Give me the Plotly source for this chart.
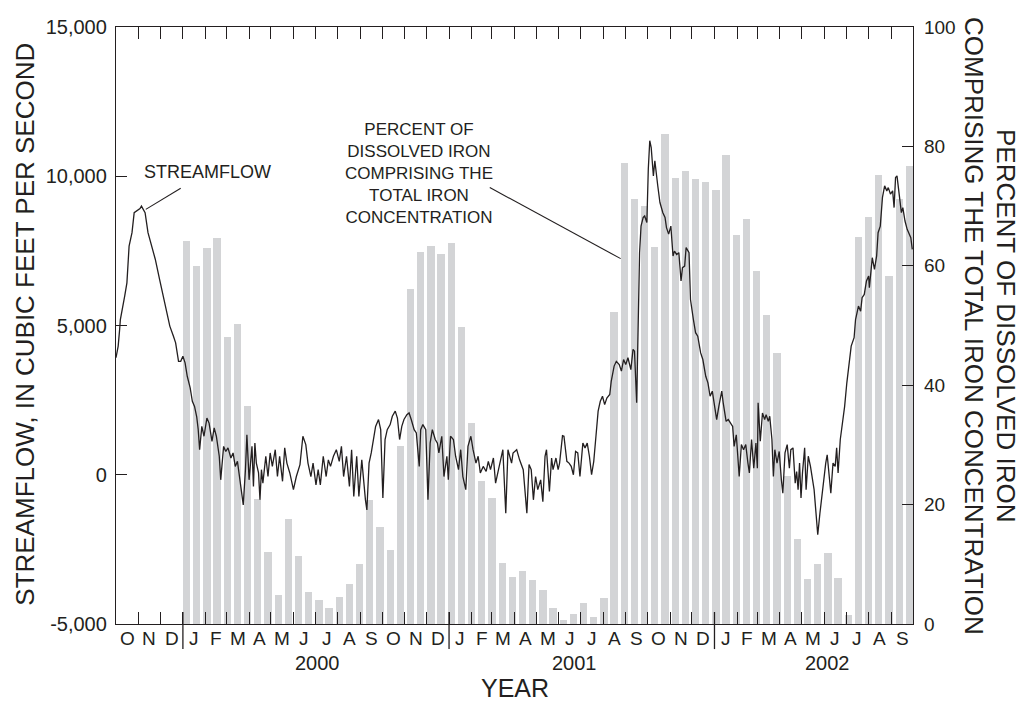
import pandas as pd
import plotly.graph_objects as go

# Daily mean streamflow, cubic feet per second (day counted from 1999-10-01)
flow_day = [
    0, 3, 5, 6, 12, 15, 18, 22, 25, 30, 33, 35, 40, 44, 49, 54, 60, 67, 74, 79,
    82, 86, 89, 92, 95, 98, 102, 105, 108, 111, 113, 115, 118, 121, 125, 128, 132, 135, 138, 142,
    144, 148, 151, 154, 158, 161, 164, 167, 169, 173, 175, 178, 180, 183, 187, 189, 191, 193, 196, 198,
    200, 202, 206, 209, 212, 215, 219, 222, 225, 229, 232, 235, 239, 244, 248, 253, 257, 261, 264, 268,
    271, 275, 278, 281, 285, 289, 292, 295, 299, 303, 307, 310, 313, 317, 321, 324, 327, 331, 334, 338,
    341, 343, 345, 348, 351, 355, 357, 361, 364, 367, 370, 373, 377, 380, 384, 387, 390, 393, 396, 400,
    403, 406, 410, 413, 417, 419, 422, 426, 429, 432, 435, 439, 442, 444, 448, 451, 455, 457, 460, 464,
    467, 471, 474, 477, 481, 484, 488, 491, 495, 498, 501, 505, 509, 512, 515, 519, 522, 526, 532, 536,
    539, 544, 546, 551, 555, 560, 562, 565, 568, 571, 574, 577, 580, 584, 587, 590, 592, 596, 599, 601,
    605, 608, 610, 614, 616, 620, 623, 626, 629, 632, 635, 638, 642, 645, 648, 651, 654, 657, 660, 663,
    666, 669, 672, 675, 679, 681, 685, 688, 692, 695, 698, 701, 704, 708, 711, 713, 716, 718, 720, 722,
    725, 727, 730, 732, 734, 736, 739, 741, 743, 745, 748, 750, 752, 755, 757, 760, 763, 766, 768, 771,
    774, 777, 779, 782, 784, 788, 790, 794, 797, 800, 804, 807, 811, 814, 817, 820, 823, 826, 829, 833,
    835, 839, 842, 845, 848, 850, 853, 857, 860, 863, 866, 869, 871, 874, 877, 880, 882, 883, 886, 889,
    892, 894, 897, 899, 902, 904, 906, 909, 912, 915, 917, 920, 923, 926, 928, 931, 934, 936, 938, 940,
    942, 944, 947, 949, 952, 955, 958, 960, 963, 965, 968, 971, 974, 976, 978, 981, 983, 986, 989, 991,
    993, 996, 999, 1002, 1005, 1008, 1011, 1015, 1017, 1021, 1024, 1026, 1029, 1032, 1035, 1036, 1040, 1043, 1046, 1048,
    1051, 1054, 1057, 1060, 1062, 1065, 1068, 1070, 1072, 1074, 1077, 1080, 1082, 1085, 1088, 1091, 1093, 1095,
]
flow_cfs = [
    3920, 4310, 4870, 5200, 5990, 6430, 7660, 8110, 8780, 8870, 8920, 9000, 8780, 8110, 7660, 7220, 6540, 5760, 4980, 4640,
    4420, 3800, 3800, 3970, 3750, 3300, 2910, 2460, 2290, 1940, 1530, 840, 1620, 1290, 1900, 1730, 1120, 1570, 1290, 620,
    -170, 950, 780, 900, 560, 730, 280, 450, 60, -730, -1010, 170, 1340, -170, 950, -390, 1060, 390, 60, -840,
    170, -280, 620, -60, 730, 280, 840, -60, 620, -220, 900, 390, 60, -500, -60, 340, 1290, 1010, 390, -60,
    390, -340, 170, -340, 620, -60, 500, 280, 620, 840, 450, 950, -60, 620, -390, 840, -730, 620, -730, 500,
    -500, -840, -1180, 390, 730, 1290, 1620, 1850, 1510, -780, 1180, 1510, 1680, 1960, 2130, 1900, 1180, 1620, 1850, 2010,
    2070, 1850, 1510, 1400, 280, 1510, 1680, 1510, -840, 1060, 1510, 1180, 1060, 730, 1290, -60, 620, -170, 1290, 1180,
    620, 170, 840, -60, -500, 950, 1290, 840, 390, 620, 60, 280, 110, 450, 170, 560, -280, 170, 840, -1290,
    840, 390, 730, 840, 500, 170, -390, -1290, 340, 170, -840, -60, -500, -170, -900, 620, 840, -560, 560, 170,
    560, 170, 390, 1310, 1290, 450, 390, 280, 0, 780, 730, -60, 1060, 900, 1060, 620, 0, 450, 1290, 2130,
    2460, 2630, 2350, 2570, 2690, 3130, 3640, 3800, 3690, 3470, 3860, 3690, 3920, 3520, 4200, 4140, 2410, 4980, 7440, 8330,
    8620, 8670, 8450, 10240, 11190, 10960, 10010, 10520, 9960, 9680, 9120, 8890, 8780, 8620, 8280, 8060, 8330, 7330, 7490, 7380,
    7440, 6490, 6940, 6990, 7610, 7440, 5870, 5200, 4760, 4640, 4080, 3860, 3300, 3080, 2630, 2800, 2290, 1850, 2290, 2800,
    2410, 1790, 1850, 1730, 1620, 950, 1340, -60, 1010, 840, 1010, 390, 60, 1180, 220, 1060, 220, 2410, 1120, 2070,
    1850, 2010, 1790, 1960, 1180, -60, 840, 390, 780, -170, -620, 730, 1010, 220, 840, 900, -280, 110, -500, 390,
    -780, 60, 900, -500, 620, 280, -170, -500, -1400, -2010, -1290, -620, -60, 390, 670, -280, -620, 390, 280, 900,
    60, 1180, 1730, 2290, 3080, 3640, 4310, 4590, 5200, 5650, 5480, 5930, 6040, 6490, 6660, 6270, 7270, 6880, 7330, 8110,
    8330, 9290, 9680, 9510, 9620, 9400, 9510, 8950, 9960, 10010, 9400, 8780, 8950, 8500, 8220, 8060, 7940, 7550,
]

# Percent of dissolved iron comprising the total iron concentration,
# biweekly samples beginning 2000-01-01
iron_start = "2000-01-01"
iron_pct = [
    64.2, 59.9, 62.9, 64.6, 48.1, 50.2, 36.6, 21.0, 12.1, 4.9, 17.6, 11.4,
    5.4, 4.1, 2.7, 4.5, 6.7, 10.0, 20.8, 16.3, 12.4, 29.9, 56.1, 62.3,
    63.3, 62.0, 63.9, 49.7, 33.6, 24.0, 21.1, 10.2, 7.9, 8.9, 7.4, 5.7,
    2.6, 0.7, 1.7, 3.6, 1.1, 4.3, 52.3, 77.2, 71.2, 70.0, 63.1, 82.0,
    74.7, 75.8, 74.5, 74.0, 72.7, 78.5, 65.2, 67.8, 59.1, 51.7, 45.4, 24.8,
    14.2, 7.5, 10.1, 11.9, 7.7, 1.5, 64.9, 68.1, 75.2, 58.3, 71.2, 76.8,
]

month_letters = list("ONDJFMAMJJAS") * 3
year_labels = ["2000", "2001", "2002"]
year_label_dates = ["2000-07-04", "2001-06-23", "2002-06-06"]
year_breaks = ["2000-01-01", "2001-01-01", "2002-01-01"]

FONT = "Liberation Sans, Arial, Helvetica, sans-serif"
INK = "#231f20"
BAR_GREY = "#d3d4d6"
DAY_MS = 86400000

record_start = pd.Timestamp("1999-10-01")
record_end = pd.Timestamp("2002-10-01")
flow_dates = record_start + pd.to_timedelta(flow_day, unit="D")
iron_dates = pd.date_range(iron_start, periods=len(iron_pct), freq="14D")

month_starts = pd.date_range(record_start, record_end, freq="MS")
month_mids = [a + (b - a) / 2 for a, b in zip(month_starts[:-1], month_starts[1:])]

fig = go.Figure()

fig.add_trace(go.Bar(
    x=iron_dates, y=iron_pct, yaxis="y",
    width=10 * DAY_MS, offset=0,
    marker=dict(color=BAR_GREY, line=dict(width=0)),
    showlegend=False, hoverinfo="x+y",
))

fig.add_trace(go.Scatter(
    x=flow_dates, y=flow_cfs, yaxis="y2", mode="lines",
    line=dict(color=INK, width=1.3),
    showlegend=False,
))

axis_common = dict(
    showgrid=False, zeroline=False, showline=True,
    linecolor=INK, linewidth=1.3, tickcolor=INK, tickwidth=1.3,
)

fig.update_layout(
    width=1023, height=701,
    margin=dict(l=116, r=110, t=27, b=77),
    paper_bgcolor="white", plot_bgcolor="white",
    font=dict(family=FONT, color=INK),
    bargap=0,
    xaxis=dict(
        type="date", range=[record_start, record_end],
        tickmode="array", tickvals=list(month_starts),
        ticks="inside", ticklen=12, showticklabels=False,
        mirror="ticks", **axis_common,
    ),
    yaxis=dict(
        side="right", range=[0, 100], tickvals=[0, 20, 40, 60, 80, 100],
        ticks="inside", ticklen=11, tickfont=dict(size=19, color=INK),
        ticklabelstandoff=6,
        **axis_common,
    ),
    yaxis2=dict(
        overlaying="y", side="left", anchor="x",
        range=[-5000, 15000],
        tickvals=[-5000, 0, 5000, 10000, 15000],
        ticktext=["-5,000", "0", "5,000", "10,000", "15,000"],
        ticks="inside", ticklen=11, tickfont=dict(size=20, color=INK),
        ticklabelstandoff=4,
        **axis_common,
    ),
)

shapes = []
for d in year_breaks:
    shapes.append(dict(type="line", xref="x", yref="paper", x0=d, x1=d,
                       y0=-0.042, y1=0.02, line=dict(color=INK, width=1.3)))
# leader lines from the labels to their marks
shapes.append(dict(type="line", xref="x", yref="y2",
                   x0="1999-12-29", y0=9600, x1="1999-11-11", y1=8890,
                   line=dict(color=INK, width=1.1)))
shapes.append(dict(type="line", xref="x", yref="y2",
                   x0="2001-02-26", y0=9620, x1="2001-08-25", y1=7240,
                   line=dict(color=INK, width=1.1)))
fig.update_layout(shapes=shapes)

ann = []
# single-letter month names centred in each month
for letter, d in zip(month_letters, month_mids):
    ann.append(dict(text=letter, x=d, xref="x", y=-0.024, yref="paper",
                    showarrow=False, xanchor="center", yanchor="middle",
                    font=dict(size=19, color=INK)))
for label, d in zip(year_labels, year_label_dates):
    ann.append(dict(text=label, x=d, xref="x", y=-0.0645, yref="paper",
                    showarrow=False, xanchor="center", yanchor="middle",
                    font=dict(size=20, color=INK)))
ann.append(dict(text="YEAR", x=0.5, xref="paper", y=-0.1064, yref="paper",
                showarrow=False, xanchor="center", yanchor="middle",
                font=dict(size=25, color=INK)))
ann.append(dict(text="STREAMFLOW, IN CUBIC FEET PER SECOND", textangle=-90,
                x=-0.1142, xref="paper", y=0.503, yref="paper",
                showarrow=False, xanchor="center", yanchor="middle",
                font=dict(size=26, color=INK)))
ann.append(dict(text="PERCENT OF DISSOLVED IRON", textangle=90,
                x=1.1173, xref="paper", y=0.5, yref="paper",
                showarrow=False, xanchor="center", yanchor="middle",
                font=dict(size=26, color=INK)))
ann.append(dict(text="COMPRISING THE TOTAL IRON CONCENTRATION", textangle=90,
                x=1.0772, xref="paper", y=0.5, yref="paper",
                showarrow=False, xanchor="center", yanchor="middle",
                font=dict(size=26, color=INK)))
ann.append(dict(text="STREAMFLOW", x="2000-02-04", xref="x", y=10140, yref="y2",
                showarrow=False, xanchor="center", yanchor="middle",
                font=dict(size=18, color=INK)))
ann.append(dict(text="PERCENT OF<br>DISSOLVED IRON<br>COMPRISING THE<br>TOTAL IRON<br>CONCENTRATION",
                x="2000-11-20", xref="x", y=10100, yref="y2",
                showarrow=False, xanchor="center", yanchor="middle", align="center",
                font=dict(size=17, color=INK)))
fig.update_layout(annotations=ann)

fig.write_html("out.html")
